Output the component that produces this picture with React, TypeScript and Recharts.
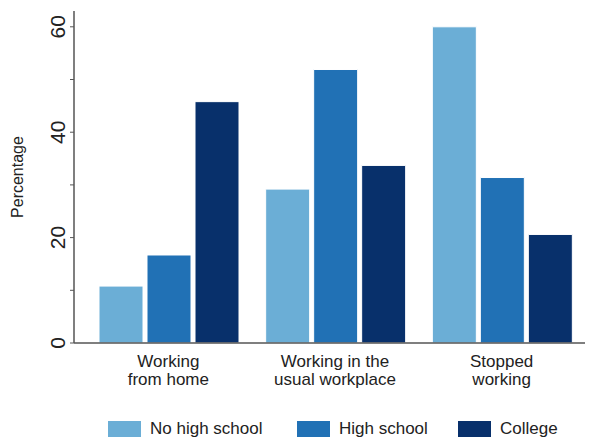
import { BarChart, Bar, XAxis, YAxis, Legend } from 'recharts';

const categories = ['Working\nfrom home', 'Working in the\nusual workplace', 'Stopped\nworking'];
const noHighSchool = [10.8, 29.2, 60.0];
const highSchool = [16.7, 51.9, 31.4];
const college = [45.8, 33.7, 20.6];
const yTicks = [0, 10, 20, 30, 40, 50, 60];
const yLabels = [0, 20, 40, 60];

const SERIES = [
  { key: 'No high school', color: '#6BAED6' },
  { key: 'High school', color: '#2171B5' },
  { key: 'College', color: '#08306B' },
];

const data = categories.map((name, i) => ({
  name,
  'No high school': noHighSchool[i],
  'High school': highSchool[i],
  College: college[i],
}));

const FONT = '"Liberation Sans", Arial, Helvetica, sans-serif';
const TEXT = '#222';

function YTick({ x, y, payload }: any) {
  if (!yLabels.includes(payload.value)) return null;
  const tx = x - 3;
  return (
    <text
      x={tx}
      y={y}
      transform={`rotate(-90, ${tx}, ${y})`}
      textAnchor="middle"
      fontSize={21}
      fill={TEXT}
      fontFamily={FONT}
    >
      {payload.value}
    </text>
  );
}

function XTick({ x, y, payload }: any) {
  const lines = String(payload.value).split('\n');
  return (
    <text x={x} y={y} textAnchor="middle" fontSize={17} fill={TEXT} fontFamily={FONT}>
      {lines.map((l, i) => (
        <tspan key={i} x={x} dy={i === 0 ? 16 : 18}>
          {l}
        </tspan>
      ))}
    </text>
  );
}

function LegendContent() {
  return (
    <div style={{ position: 'relative', height: 20, fontFamily: FONT, fontSize: 17, color: TEXT }}>
      {SERIES.map((s, i) => (
        <div
          key={s.key}
          style={{ display: 'flex', alignItems: 'center', position: 'absolute', top: 0, left: [108, 297, 458][i] }}
        >
          <span style={{ display: 'inline-block', width: 33, height: 16, background: s.color, marginRight: 9 }} />
          <span>{s.key}</span>
        </div>
      ))}
    </div>
  );
}

export default function App() {
  return (
    <div style={{ position: 'fixed', left: 0, top: 0, width: 595, height: 440, background: '#fff' }}>
      <BarChart
        width={595}
        height={440}
        data={data}
        margin={{ top: 11, right: 10, bottom: 47, left: 0 }}
        barCategoryGap={14}
        barGap={4}
      >
        <XAxis
          dataKey="name"
          tick={<XTick />}
          tickLine={false}
          axisLine={{ stroke: '#555', strokeWidth: 1.5 }}
          padding={{ left: 11, right: 0 }}
          interval={0}
        />
        <YAxis
          width={74}
          domain={[0, 63]}
          ticks={yTicks}
          interval={0}
          tick={<YTick />}
          tickSize={4}
          tickLine={{ stroke: '#555' }}
          axisLine={{ stroke: '#555', strokeWidth: 1.5 }}
          label={{
            value: 'Percentage',
            angle: -90,
            position: 'insideLeft',
            dx: 12,
            dy: 0,
            style: { fontSize: 16, fill: TEXT, fontFamily: FONT, textAnchor: 'middle' },
          }}
        />
        <Legend
          content={<LegendContent />}
          wrapperStyle={{ position: 'absolute', left: 0, top: 419, width: 595, height: 20 }}
        />
        {SERIES.map((s) => (
          <Bar
            key={s.key}
            dataKey={s.key}
            fill={s.color}
            stroke="#ffffff"
            strokeWidth={1}
            isAnimationActive={false}
          />
        ))}
      </BarChart>
    </div>
  );
}
